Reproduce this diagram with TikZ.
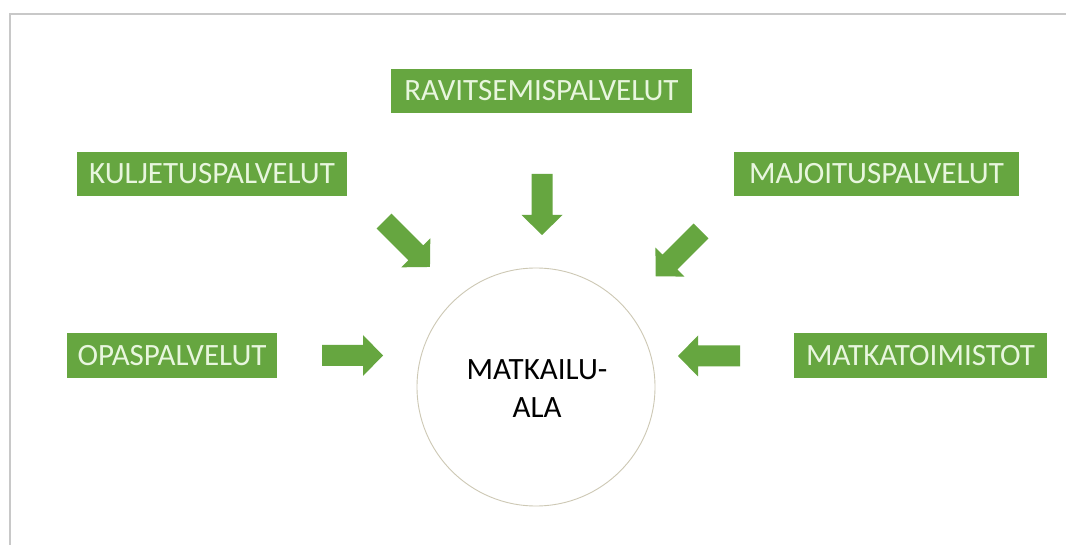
\documentclass[tikz,border=0pt]{standalone}
\usepackage{fontspec}
\setmainfont{Carlito}
\definecolor{boxgreen}{RGB}{102,166,64}
\definecolor{boxtext}{RGB}{232,246,222}
\definecolor{ringcol}{RGB}{205,200,180}
\definecolor{framecol}{RGB}{200,200,200}
\tikzset{
  svcbox/.style={fill=boxgreen, text=boxtext, inner sep=0pt, minimum height=44pt,
    font=\fontsize{31}{36}\selectfont, anchor=center},
  pics/barrow/.style={code={
    \fill[boxgreen] (0,-10.5) -- ({#1-20},-10.5) -- ({#1-20},-20.5) -- (#1,0)
      -- ({#1-20},20.5) -- ({#1-20},10.5) -- (0,10.5) -- cycle;}}
}
\begin{document}
\begin{tikzpicture}[x=1pt,y=-1pt]
\useasboundingbox (0,0) rectangle (1066,545);
\fill[white] (0,0) rectangle (1066,545);
\draw[framecol, line width=1.2pt] (10,545) -- (10,14) -- (1066,14);
% boxes
\node[svcbox, minimum width=301pt] (rav) at (541.5,91) {RAVITSEMISPALVELUT};
\node[svcbox, minimum width=270pt] (kul) at (212,174) {KULJETUSPALVELUT};
\node[svcbox, minimum width=285pt] (maj) at (876.5,174) {MAJOITUSPALVELUT};
\node[svcbox, minimum width=210pt, minimum height=45pt] (opas) at (172,355.5) {OPASPALVELUT};
\node[svcbox, minimum width=253pt, minimum height=45pt] (matka) at (920.5,355.5) {MATKATOIMISTOT};
% centre circle
\node[circle, draw=ringcol, line width=0.9pt, minimum size=238pt, inner sep=0pt] (ring) at (536,387) {};
\node[align=center, font=\fontsize{31}{38}\selectfont, text=black] (lbl) at (537,389) {MATKAILU-\\ALA};
% block arrows
\pic[rotate=-90] at (542,174) {barrow=61};
\pic[rotate=-45] at (384,221) {barrow=65};
\pic[rotate=-135] at (701,231) {barrow=64};
\pic at (322,355.5) {barrow=61};
\pic[rotate=180] at (740,356) {barrow=62};
\end{tikzpicture}
\end{document}
